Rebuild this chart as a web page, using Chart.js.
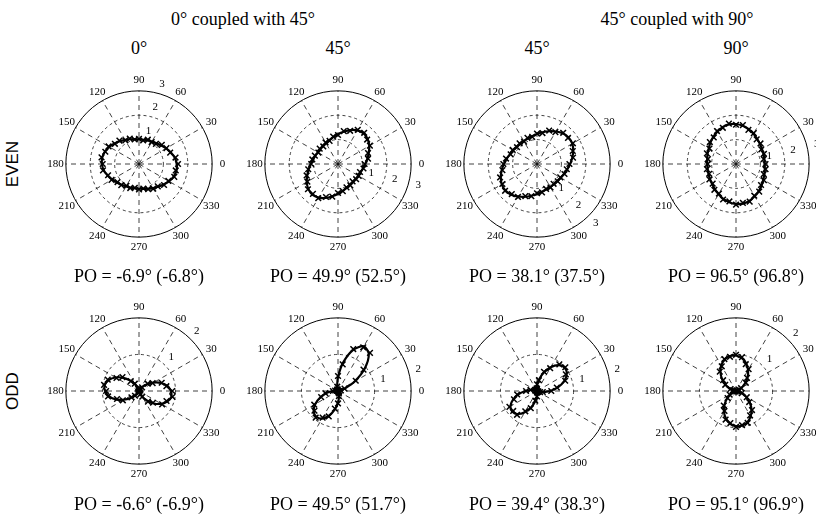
<!DOCTYPE html>
<html>
<head>
<meta charset="utf-8">
<script src="https://cdn.jsdelivr.net/npm/chart.js@4.4.1/dist/chart.umd.min.js"></script>
<style>
  html, body { margin: 0; padding: 0; background: #fff; }
  body { position: relative; width: 816px; height: 516px; overflow: hidden; }
  canvas { position: absolute; }
  .txt {
    position: absolute;
    font-family: "Liberation Serif", "Times New Roman", serif;
    color: #000;
    white-space: nowrap;
    transform: translate(-50%, -50%);
  }
  .row {
    position: absolute;
    font-family: "Liberation Sans", Arial, sans-serif;
    font-size: 17px;
    color: #000;
    white-space: nowrap;
    transform: translate(-50%, -50%) rotate(-90deg);
  }
</style>
</head>
<body>
<script>
// angles (deg) at which every curve is sampled
const ANGLES = [0, 10, 20, 30, 40, 50, 60, 70, 80, 90, 100, 110, 120, 130, 140, 150, 160, 170,
  180, 190, 200, 210, 220, 230, 240, 250, 260, 270, 280, 290, 300, 310, 320, 330, 340, 350]
const SPOKES = [0, 30, 60, 90, 120, 150, 180, 210, 240, 270, 300, 330]

const GROUP_TITLES = ['0° coupled with 45°', '45° coupled with 90°']
const COLUMN_LABELS = ['0°', '45°', '45°', '90°']
const ROW_LABELS = ['EVEN', 'ODD']
const PO_LABELS = [
  'PO = -6.9° (-6.8°)', 'PO = 49.9° (52.5°)', 'PO = 38.1° (37.5°)', 'PO = 96.5° (96.8°)',
  'PO = -6.6° (-6.9°)', 'PO = 49.5° (51.7°)', 'PO = 39.4° (38.3°)', 'PO = 95.1° (96.9°)'
]
const RMAX = [3, 3, 3, 3, 2, 2, 2, 2]
const RING_LABEL_ANGLE = [74, -15, -45, 14, 46, 15, 15, 44]

// fitted curves (radius at each angle)
const FIT_EVEN_0 = [1.56, 1.49, 1.39, 1.28, 1.18, 1.11, 1.06, 1.03, 1.01, 1.01, 1.04, 1.08, 1.14, 1.22, 1.31, 1.41, 1.49, 1.53,
  1.52, 1.47, 1.37, 1.27, 1.18, 1.11, 1.06, 1.03, 1.01, 1.01, 1.04, 1.08, 1.14, 1.22, 1.31, 1.42, 1.51, 1.56]
const FIT_EVEN_45A = [1.12, 1.22, 1.34, 1.48, 1.59, 1.64, 1.59, 1.48, 1.34, 1.22, 1.12, 1.04, 0.99, 0.96, 0.95, 0.96, 0.99, 1.04,
  1.12, 1.22, 1.34, 1.48, 1.59, 1.64, 1.59, 1.48, 1.34, 1.22, 1.12, 1.04, 0.99, 0.96, 0.95, 0.96, 0.99, 1.04]
const FIT_EVEN_45B = [1.36, 1.47, 1.58, 1.67, 1.69, 1.64, 1.54, 1.43, 1.32, 1.23, 1.16, 1.11, 1.09, 1.08, 1.09, 1.13, 1.18, 1.26,
  1.36, 1.47, 1.58, 1.67, 1.69, 1.64, 1.54, 1.43, 1.32, 1.23, 1.16, 1.11, 1.09, 1.08, 1.09, 1.13, 1.18, 1.26]
const FIT_EVEN_90 = [1.18, 1.18, 1.20, 1.23, 1.28, 1.35, 1.43, 1.52, 1.59, 1.64, 1.65, 1.61, 1.53, 1.45, 1.37, 1.29, 1.24, 1.20,
  1.18, 1.18, 1.20, 1.23, 1.28, 1.35, 1.43, 1.52, 1.59, 1.64, 1.65, 1.61, 1.53, 1.45, 1.37, 1.29, 1.24, 1.20]
const FIT_ODD_0 = [0.88, 0.79, 0.64, 0.46, 0.29, 0.15, 0.05, 0.01, 0.01, 0.01, 0.02, 0.09, 0.21, 0.37, 0.56, 0.74, 0.88, 0.95,
  0.93, 0.83, 0.67, 0.48, 0.30, 0.15, 0.06, 0.01, 0.01, 0.01, 0.02, 0.08, 0.20, 0.35, 0.53, 0.70, 0.83, 0.90]
const FIT_ODD_45A = [0.01, 0.06, 0.21, 0.53, 0.95, 1.31, 1.41, 1.19, 0.78, 0.38, 0.13, 0.03, 0.01, 0.01, 0.01, 0.01, 0.01, 0.06,
  0.16, 0.32, 0.52, 0.72, 0.87, 0.92, 0.87, 0.72, 0.52, 0.32, 0.16, 0.06, 0.01, 0.01, 0.01, 0.01, 0.01, 0.01]
const FIT_ODD_45B = [0.36, 0.58, 0.79, 0.94, 0.99, 0.92, 0.75, 0.53, 0.32, 0.16, 0.06, 0.01, 0.01, 0.01, 0.01, 0.01, 0.06, 0.16,
  0.32, 0.52, 0.70, 0.84, 0.88, 0.82, 0.67, 0.48, 0.29, 0.14, 0.05, 0.01, 0.01, 0.01, 0.01, 0.02, 0.07, 0.18]
const FIT_ODD_90 = [0.01, 0.01, 0.07, 0.18, 0.32, 0.49, 0.66, 0.81, 0.91, 0.97, 0.97, 0.91, 0.81, 0.66, 0.49, 0.32, 0.18, 0.07,
  0.01, 0.01, 0.07, 0.18, 0.32, 0.49, 0.66, 0.80, 0.91, 0.96, 0.96, 0.91, 0.80, 0.66, 0.49, 0.32, 0.18, 0.07]

// measured responses (x markers)
const MEAS_EVEN_0 = [1.60, 1.52, 1.36, 1.30, 1.22, 1.08, 1.04, 1.06, 0.98, 1.03, 1.02, 1.11, 1.12, 1.25, 1.29, 1.44, 1.47, 1.56,
  1.49, 1.50, 1.35, 1.30, 1.15, 1.13, 1.03, 1.05, 0.99, 1.04, 1.02, 1.10, 1.17, 1.20, 1.34, 1.39, 1.54, 1.53]
const MEAS_EVEN_45A = [1.09, 1.25, 1.31, 1.51, 1.56, 1.67, 1.62, 1.45, 1.37, 1.19, 1.14, 1.01, 1.02, 0.94, 0.98, 0.93, 1.01, 1.07,
  1.10, 1.24, 1.37, 1.45, 1.61, 1.60, 1.62, 1.44, 1.36, 1.19, 1.13, 1.02, 1.01, 0.93, 0.97, 0.98, 0.96, 1.06]
const MEAS_EVEN_45B = [1.33, 1.50, 1.56, 1.70, 1.66, 1.67, 1.51, 1.46, 1.29, 1.25, 1.13, 1.14, 1.06, 1.11, 1.07, 1.15, 1.15, 1.29,
  1.38, 1.44, 1.61, 1.64, 1.71, 1.61, 1.56, 1.40, 1.34, 1.20, 1.18, 1.09, 1.11, 1.06, 1.11, 1.10, 1.20, 1.24]
const MEAS_EVEN_90 = [1.21, 1.15, 1.22, 1.20, 1.31, 1.32, 1.46, 1.49, 1.62, 1.61, 1.68, 1.58, 1.56, 1.42, 1.40, 1.26, 1.27, 1.17,
  1.16, 1.21, 1.17, 1.26, 1.25, 1.38, 1.40, 1.55, 1.56, 1.67, 1.62, 1.64, 1.50, 1.48, 1.34, 1.32, 1.21, 1.23]
const MEAS_ODD_0 = [0.91, 0.76, 0.66, 0.43, 0.31, 0.13, 0.07, 0.03, 0.02, 0.02, 0.04, 0.07, 0.23, 0.35, 0.59, 0.71, 0.91, 0.97,
  0.90, 0.86, 0.64, 0.51, 0.27, 0.17, 0.04, 0.02, 0.03, 0.02, 0.03, 0.10, 0.18, 0.38, 0.50, 0.73, 0.80, 0.93]
const MEAS_ODD_45A = [0.02, 0.08, 0.19, 0.56, 0.91, 1.36, 1.38, 1.22, 0.74, 0.41, 0.12, 0.05, 0.02, 0.02, 0.03, 0.02, 0.03, 0.08,
  0.14, 0.35, 0.49, 0.75, 0.84, 0.95, 0.84, 0.74, 0.49, 0.34, 0.14, 0.07, 0.02, 0.03, 0.02, 0.02, 0.03, 0.02]
const MEAS_ODD_45B = [0.39, 0.55, 0.82, 0.91, 1.01, 0.95, 0.72, 0.56, 0.30, 0.18, 0.07, 0.03, 0.02, 0.02, 0.03, 0.03, 0.05, 0.18,
  0.30, 0.55, 0.67, 0.87, 0.85, 0.85, 0.64, 0.50, 0.27, 0.15, 0.04, 0.03, 0.02, 0.02, 0.03, 0.04, 0.09, 0.16]
const MEAS_ODD_90 = [0.03, 0.02, 0.09, 0.16, 0.35, 0.47, 0.69, 0.78, 0.94, 0.99, 0.95, 0.93, 0.78, 0.69, 0.46, 0.34, 0.16, 0.09,
  0.02, 0.03, 0.06, 0.20, 0.30, 0.52, 0.63, 0.83, 0.89, 0.98, 0.95, 0.93, 0.77, 0.68, 0.47, 0.34, 0.17, 0.05]

const FITS = [FIT_EVEN_0, FIT_EVEN_45A, FIT_EVEN_45B, FIT_EVEN_90, FIT_ODD_0, FIT_ODD_45A, FIT_ODD_45B, FIT_ODD_90]
const MEASURED = [MEAS_EVEN_0, MEAS_EVEN_45A, MEAS_EVEN_45B, MEAS_EVEN_90, MEAS_ODD_0, MEAS_ODD_45A, MEAS_ODD_45B, MEAS_ODD_90]

// layout
const COL_X = [139, 338, 537, 736]
const ROW_Y = [164, 391]
const OUTER_PX = 77
const HALF = 110

const SERIF = '"Liberation Serif", "Times New Roman", serif'

function addText (text, x, y, size, cls) {
  const el = document.createElement('div')
  el.className = cls || 'txt'
  el.textContent = text
  el.style.left = x + 'px'
  el.style.top = y + 'px'
  if (size) el.style.fontSize = size + 'px'
  document.body.appendChild(el)
}

function toXY (radii, close) {
  const pts = ANGLES.map((a, i) => {
    const t = a * Math.PI / 180
    return { x: radii[i] * Math.cos(t), y: radii[i] * Math.sin(t) }
  })
  if (close) pts.push(pts[0])
  return pts
}

const polarGrid = {
  id: 'polarGrid',
  beforeDatasetsDraw (chart, args, opts) {
    const { ctx } = chart
    const sx = chart.scales.x
    const sy = chart.scales.y
    const cx = sx.getPixelForValue(0)
    const cy = sy.getPixelForValue(0)
    const rad = (r) => sx.getPixelForValue(r) - cx
    const rmax = opts.rmax
    const outer = rad(rmax)

    ctx.save()
    ctx.strokeStyle = '#111'
    ctx.lineWidth = 0.8
    // rings: short fine dashes
    ctx.setLineDash([3, 3])
    for (let t = 1; t < rmax; t++) {
      ctx.beginPath()
      ctx.arc(cx, cy, rad(t), 0, Math.PI * 2)
      ctx.stroke()
    }
    // spokes: longer dashes
    ctx.setLineDash([5, 4])
    for (const a of SPOKES) {
      const t = a * Math.PI / 180
      ctx.beginPath()
      ctx.moveTo(cx, cy)
      ctx.lineTo(cx + outer * Math.cos(t), cy - outer * Math.sin(t))
      ctx.stroke()
    }
    ctx.setLineDash([])
    ctx.lineWidth = 1
    ctx.strokeStyle = '#000'
    ctx.beginPath()
    ctx.arc(cx, cy, outer, 0, Math.PI * 2)
    ctx.stroke()

    ctx.fillStyle = '#000'
    ctx.textAlign = 'center'
    ctx.textBaseline = 'middle'
    ctx.font = '11px ' + SERIF
    for (const a of SPOKES) {
      const t = a * Math.PI / 180
      const rr = outer * 1.14
      ctx.fillText(String(a), cx + rr * Math.cos(t), cy - rr * Math.sin(t))
    }
    const la = opts.ringAngle * Math.PI / 180
    for (let t = 1; t <= rmax; t++) {
      const rr = rad(t) + 10
      ctx.fillText(String(t), cx + rr * Math.cos(la), cy - rr * Math.sin(la))
    }
    ctx.restore()
  }
}

GROUP_TITLES.forEach((t, i) => addText(t, i === 0 ? 243 : 677, 19, 18))
COLUMN_LABELS.forEach((t, i) => addText(t, COL_X[i], 48, 18))
ROW_LABELS.forEach((t, i) => addText(t, 13, ROW_Y[i], null, 'row'))

FITS.forEach((fit, k) => {
  const col = k % 4
  const row = Math.floor(k / 4)
  const cx = COL_X[col]
  const cy = ROW_Y[row]
  const rmax = RMAX[k]
  const lim = rmax * HALF / OUTER_PX

  const canvas = document.createElement('canvas')
  canvas.width = HALF * 2
  canvas.height = HALF * 2
  canvas.style.left = (cx - HALF) + 'px'
  canvas.style.top = (cy - HALF) + 'px'
  document.body.appendChild(canvas)

  new Chart(canvas, {
    type: 'scatter',
    data: {
      datasets: [
        {
          data: toXY(fit, true),
          showLine: true,
          pointRadius: 0,
          borderColor: '#000',
          borderWidth: 2.2,
          tension: 0.3
        },
        {
          data: toXY(MEASURED[k], false),
          pointStyle: 'crossRot',
          pointRadius: 4,
          borderColor: '#000',
          backgroundColor: '#000',
          borderWidth: 1.5
        }
      ]
    },
    options: {
      responsive: false,
      animation: false,
      devicePixelRatio: 1,
      layout: { padding: 0 },
      scales: {
        x: { display: false, min: -lim, max: lim },
        y: { display: false, min: -lim, max: lim }
      },
      plugins: {
        legend: { display: false },
        tooltip: { enabled: false },
        polarGrid: { rmax, ringAngle: RING_LABEL_ANGLE[k] }
      }
    },
    plugins: [polarGrid]
  })

  addText(PO_LABELS[k], cx, row === 0 ? 276 : 504, 18)
})
</script>
</body>
</html>
